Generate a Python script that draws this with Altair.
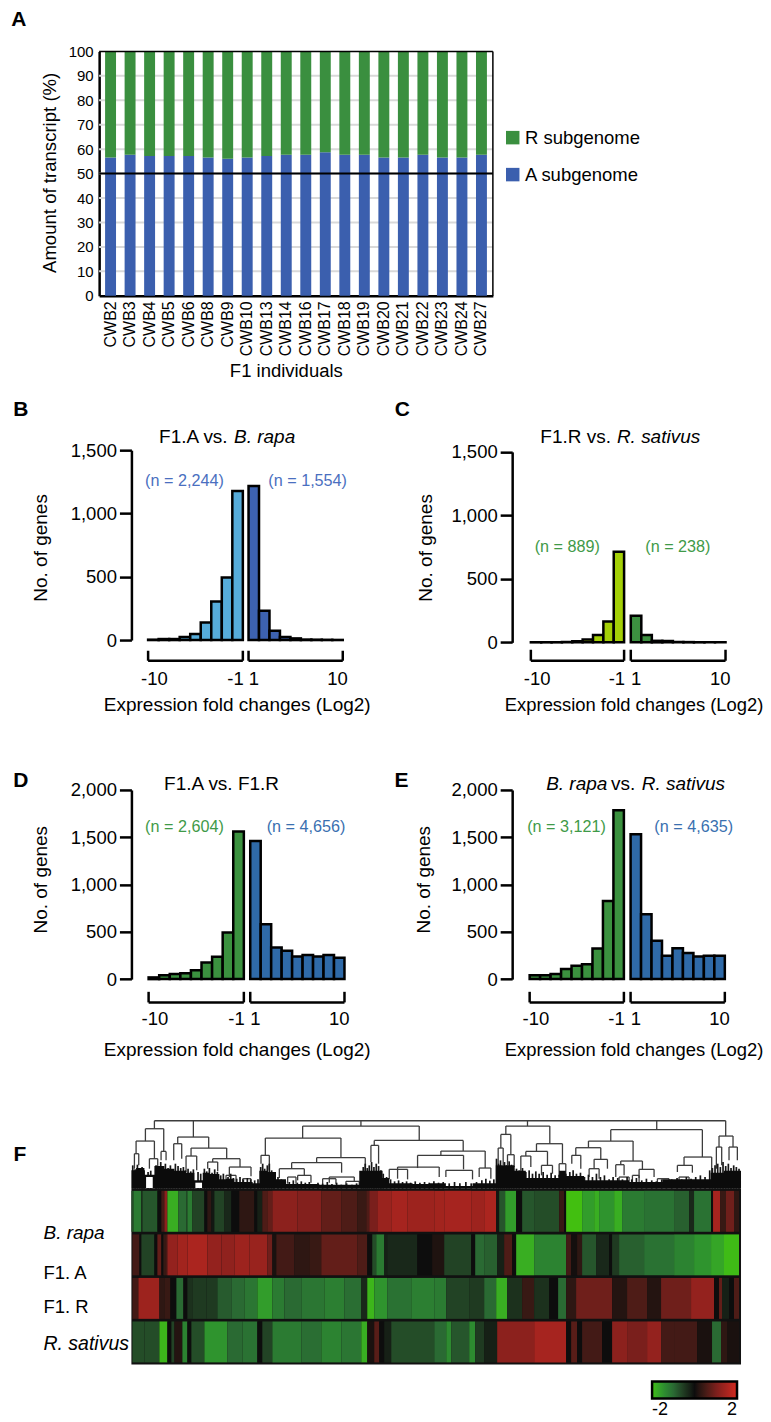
import altair as alt
import pandas as pd

FONT = "Liberation Sans"

# ---------- Panel A ----------
INDIVIDUALS = ["CWB2","CWB3","CWB4","CWB5","CWB6","CWB8","CWB9","CWB10","CWB13","CWB14",
               "CWB16","CWB17","CWB18","CWB19","CWB20","CWB21","CWB22","CWB23","CWB24","CWB27"]
A_SHARE = [56.6,57.7,57.2,57.2,57.2,56.6,56.1,56.6,57.2,57.7,
           57.7,58.7,57.7,57.7,56.6,56.6,57.7,56.6,56.6,57.7]

# ---------- Panels B-E (nine bins either side) ----------
B_LEFT = [3,8,8,24,47,139,305,494,1177]
B_RIGHT = [1216,231,74,24,13,4,3,2,1]
C_LEFT = [1,1,1,2,8,22,58,165,713]
C_RIGHT = [210,58,12,10,3,2,1,1,1]
D_LEFT = [18,42,53,63,95,176,236,493,1560]
D_RIGHT = [1461,581,335,299,239,254,239,254,225]
E_LEFT = [42,42,53,106,141,158,324,827,1785]
E_RIGHT = [1532,687,405,246,327,275,239,246,246]
LEFT_EDGES = [-10,-9,-8,-7,-6,-5,-4,-3,-2,-1]
RIGHT_EDGES = [1,2,3,4,5,6,7,8,9,10]
TICK_TEXT = ["-10","-1","1","10"]
TICK_POS = [-9.4,-1.7,1.5,9.5]

# ---------- Panel F heat map: segment ends along the cluster order, and values ----------
ROWS = ["B. rapa","F1. A","F1. R","R. sativus"]
R1_START, R2_START, R3_START, R4_START = 22, 25, 25, 25
R1_ENDS = [28,52,55,95,100,110,120,130,162,185,190,205,240,248,262,270,300,320,345,390,400,415,430,445,520,590,650,700,725,735,760,800,850,930,960,1040,1080,1115,1125,1142,1175,1195,1230,1305,1320,1325,1375,1410,1425,1470,1495,1560,1650,1695,1710,1760,1768,1788,1805,1830,1845]
R1_VALS = [-.7,-1.2,-.3,-.8,-1.2,0,.5,1.2,-1.8,-1,-.8,-1.2,-.6,0,.3,-.1,-.6,-.3,0,.3,0,-.2,.6,.8,1.2,1.1,.8,.6,.4,.6,1,1.35,1.5,1.4,1.45,1.5,1.4,1.55,-.1,-.8,-1.6,0,-.8,-.7,.4,0,-2,-1.6,-1.8,-1.5,-1.8,-1.2,-1.1,-.9,-.3,-1.1,0,1.5,.4,.9,.3]
R2_ENDS = [45,52,90,98,110,118,125,130,160,190,250,290,330,375,430,445,455,510,555,590,700,730,745,755,780,790,880,925,960,1040,1052,1080,1118,1140,1165,1177,1230,1325,1342,1360,1375,1415,1455,1463,1485,1560,1650,1710,1760,1800,1845]
R2_VALS = [.5,0,-.6,0,.8,0,.4,.8,1.3,1.45,1.55,1.3,1.25,1.4,1.35,.9,.1,.5,.3,.4,.8,.6,0,-.7,-1.2,-.2,-.3,0,.15,-.6,0,-1,-.9,-.2,.6,0,-1.8,-1.3,.5,.05,.3,-.8,-.3,0,-.5,-.9,-1.1,-1.3,-1.5,-1.7,-1.95]
R3_ENDS = [42,105,120,138,155,178,190,205,245,280,320,360,400,445,480,530,600,660,710,730,750,790,860,930,965,1035,1080,1115,1150,1195,1230,1275,1302,1327,1355,1465,1508,1570,1610,1700,1770,1785,1795,1815,1830,1845]
R3_VALS = [.5,1.4,.3,.4,0,-1,0,-.4,-.5,-.5,-.85,-1,-1.15,-1.6,-1.2,-1,-1.15,-1.25,-1.05,-.3,-1.9,-1.5,-1.1,-1.25,-1.2,-.6,-.5,-1,-1.8,-.4,.4,-.4,0,-1,.3,.9,.2,.6,.2,.9,1.3,0,.8,-.2,0,.6]
R4_ENDS = [60,105,130,140,150,175,190,200,240,310,355,400,415,445,530,590,650,710,730,750,765,780,800,930,965,980,1035,1052,1080,1118,1230,1325,1340,1360,1375,1435,1463,1510,1570,1610,1650,1720,1765,1790,1810,1845]
R4_VALS = [-.7,-.7,-1.9,0,-.6,.2,-1.3,0,-.7,-1.5,-1,-1.1,0,-.6,-1.2,-1.05,-1.3,-1.15,-1.8,.1,.7,0,-.2,-.7,-1,-1.4,-.8,-1.4,-.5,-.2,1.2,1.5,0,.7,0,.5,0,1.2,1,1.3,.5,.5,.1,-1,.3,.1]

# ---------- Panel F dendrogram ----------
ROOT_BAR = (105,1820,36)
ROOT_DROPS = [(105,60),(222,85),(725,52),(1225,52),(1613,63),(1820,82)]
MERGES = [
 (78,133,60,97,128),(50,105,97,135,150),(45,58,135,180,170),(90,115,150,180,190),(125,140,128,155,155),
 (163,187,105,155,150),(175,268,85,105,118),(215,322,118,142,150),(200,232,142,190,185),(280,362,150,160,175),
 (265,295,160,180,188),(330,395,175,205,203),(320,350,200,225,225),(370,395,210,228,228),
 (438,665,88,140,147),(425,450,140,165,183),(592,738,147,162,205),(517,667,162,180,192),(480,555,180,208,200),
 (630,705,205,222,218),(505,530,205,225,225),(535,575,200,215,222),(610,650,210,228,225),(680,720,218,232,232),
 (550,900,52,88,95),(765,1032,95,110,127),(755,778,110,160,165),(965,1098,127,140,178),(895,1033,140,178,182),
 (835,960,175,210,205),(810,865,182,212,212),(980,1060,185,205,212),(1080,1115,178,205,210),
 (1160,1292,52,77,105),(1145,1175,77,118,138),(1137,1152,118,170,170),(1165,1185,138,170,175),
 (1252,1330,105,128,165),(1220,1285,128,142,170),(1205,1235,142,198,175),(1267,1300,170,200,195),(1320,1340,165,205,205),
 (1475,1750,63,97,145),(1408,1542,97,117,157),(1370,1445,117,140,152),(1358,1385,140,165,180),(1425,1465,152,180,180),
 (1505,1570,157,168,182),(1490,1515,168,205,200),(1560,1605,182,208,205),(1695,1778,145,170,195),(1675,1720,170,190,192),
 (1800,1842,82,115,115),(1792,1808,115,180,170),(1830,1855,115,155,155),(1410,1440,180,205,210),(1500,1530,205,225,225),
 (1540,1560,200,225,225),(1615,1650,210,225,225),(1680,1710,205,225,222),
]
MASS_X = [36,50,75,105,135,165,200,225,250,270,300,320,345,400,420,445,470,500,600,720,745,790,810,880,930,980,1060,1125,1130,1185,1220,1320,1340,1395,1530,1630,1775,1815,1866]
MASS_Y = [185,178,198,172,180,186,192,215,192,196,212,210,220,224,186,190,212,226,228,186,186,208,224,226,224,232,224,224,170,186,208,186,202,215,220,212,192,186,186]
HOLES_X = [80,228]
HOLES_X2 = [100,248]
HOLES_Y = [205,222]
SPIKES = [(40,170),(47,182),(54,168),(61,178),(68,175),(74,185),(86,190),(94,186),(110,170),(117,178),(124,160),(131,172),(138,165),(146,178),(153,170),(160,182),(168,165),(176,172),(184,178),(192,175),(198,185),(206,180),(214,188),(222,182),(236,190),(244,195),(255,180),(262,188),(270,178),(278,192),(286,182),(294,190),(304,200),(312,195),(326,205),(334,195),(342,208),(352,210),(362,205),(372,212),(384,208),(394,212),(406,215),(416,212),(424,175),(430,165),(436,180),(444,170),(450,165),(457,185),(464,190),(476,205),(486,212),(498,218),(510,220),(522,215),(534,222),(546,218),(558,222),(570,220),(582,226),(596,222),(610,225),(624,220),(638,226),(652,222),(666,228),(682,224),(698,228),(712,224),(726,190),(732,175),(738,165),(744,178),(750,170),(757,160),(764,175),(771,165),(778,172),(785,185),(792,195),(802,205),(814,212),(826,218),(838,215),(850,220),(862,218),(874,222),(888,218),(902,222),(916,220),(930,222),(944,218),(958,222),(972,220),(990,224),(1006,220),(1022,224),(1040,220),(1056,224),(1072,220),(1088,215),(1100,210),(1112,216),(1124,212),(1132,150),(1138,165),(1144,155),(1150,172),(1156,160),(1163,170),(1170,158),(1177,168),(1184,172),(1192,180),(1200,185),(1210,178),(1220,190),(1230,185),(1240,195),(1250,188),(1260,195),(1272,190),(1284,198),(1296,192),(1308,200),(1320,198),(1332,190),(1340,195),(1352,190),(1362,185),(1372,195),(1384,192),(1396,205),(1408,198),(1420,205),(1432,195),(1444,205),(1456,200),(1470,212),(1482,205),(1496,208),(1510,212),(1524,205),(1538,212),(1552,208),(1568,215),(1582,210),(1598,215),(1612,218),(1628,212),(1642,218),(1658,212),(1674,208),(1688,212),(1702,205),(1716,210),(1730,205),(1744,200),(1758,205),(1772,185),(1780,178),(1788,170),(1796,165),(1804,175),(1812,160),(1820,172),(1828,165),(1836,178),(1844,170),(1852,175),(1860,180)]

SRC = alt.Chart
COL_GREEN, COL_BLUE = "#3a8f3f", "#3b5fae"
NG, NB = "#3f9a48", "#3a70b0"
COL0 = 380.2      # distance from the B/D axis to the C/E axis


def txt(s, x, y, size=19, color="black", align="left", style="normal", weight="normal"):
    return SRC(pd.DataFrame({"t": [s]})).mark_text(
        align=align, baseline="middle", fontSize=size, color=color, fontStyle=style, fontWeight=weight
    ).encode(x=alt.value(x), y=alt.value(y), text="t:N")


def blank(w, h):
    return SRC(pd.DataFrame({"a": [0]})).mark_point(opacity=0).encode(
        x=alt.value(0), y=alt.value(0)
    ).properties(width=w, height=h)


# ---------- A ----------
H_A = 244.5
AL, AR = -32.3, 361.7
rows_a = []
for name, a in zip(INDIVIDUALS, A_SHARE):
    rows_a.append({"ind": name, "sub": "A subgenome", "lo": 0, "hi": a})
    rows_a.append({"ind": name, "sub": "R subgenome", "lo": a, "hi": 100})
y_a = alt.Y("lo:Q", scale=alt.Scale(domain=[0, 100], nice=False),
            axis=alt.Axis(title="Amount of transcript (%)", values=list(range(0, 101, 10)), ticks=False,
                          labelFontSize=15, labelPadding=6, labelColor="black", titleColor="black", labelOverlap=False,
                          domainColor="black", domainWidth=2.5, offset=-AL, grid=False,
                          titleFontSize=18.6, titleFontWeight="normal", titleX=-50, titleY=121,
                          titleBaseline="middle", titleAlign="center"))
grid_a = SRC(pd.DataFrame({"lo": list(range(10, 100, 10))})).mark_rule(color="#d9d9d9", strokeWidth=2).encode(
    y=y_a, x=alt.value(AL), x2=alt.value(AR))
bars_a = SRC(pd.DataFrame(rows_a)).mark_bar().encode(
    x=alt.X("ind:N", sort=INDIVIDUALS,
            scale=alt.Scale(range=[AL, AR], paddingInner=0.44, paddingOuter=0.305),
            axis=alt.Axis(title="F1 individuals", labelAngle=-90, labelFontSize=16, ticks=False, labelPadding=5,
                          domainColor="black", domainWidth=2.5, labelColor="black", titleColor="black",
                          titleFontSize=18.5, titleFontWeight="normal", titleX=154.5, titleY=74.7,
                          titleBaseline="middle", titleAlign="center", labelOverlap=False)),
    y=y_a, y2="hi:Q",
    color=alt.Color("sub:N", scale=alt.Scale(domain=["R subgenome", "A subgenome"], range=[COL_GREEN, COL_BLUE]),
                    legend=alt.Legend(title=None, orient="none", legendX=372.3, legendY=77, symbolType="square",
                                      symbolSize=182, symbolStrokeWidth=0, labelFontSize=18.5, labelColor="black",
                                      rowPadding=18, labelOffset=3, padding=0, symbolOpacity=1)),
)
line50 = SRC(pd.DataFrame({"lo": [50]})).mark_rule(color="black", strokeWidth=2).encode(
    y=y_a, x=alt.value(AL), x2=alt.value(AR))
top_a = SRC(pd.DataFrame({"lo": [100]})).mark_rule(color="black", strokeWidth=1.5).encode(
    y=y_a, x=alt.value(AL), x2=alt.value(AR))
right_a = SRC(pd.DataFrame({"lo": [0], "hi": [100]})).mark_rule(color="black", strokeWidth=1.5).encode(
    y=y_a, y2="hi:Q", x=alt.value(AR))
panel_a = alt.layer(grid_a, bars_a, line50, top_a, right_a,
                    txt("A", -120.3, -31.5, size=21, weight="bold")).properties(width=COL0 - 20, height=H_A)


# ---------- B-E ----------
def panel(left, right, c_left, c_right, ymax, yvals, rng, yrng, titles, n_left, n_right, letter,
          bracket_y, tick_y, xtitle_xy, ytitle_xy, height, xtitle_size=19):
    xscale = alt.Scale(domain=[-10, -1, 1, 10], range=rng)
    xaxis = alt.Axis(title="Expression fold changes (Log2)", labels=False, ticks=False, domain=False, grid=False,
                     titleFontSize=xtitle_size, titleFontWeight="normal", titleColor="black",
                     titleX=xtitle_xy[0], titleY=xtitle_xy[1] - height, titleBaseline="middle", titleAlign="center")
    yaxis = alt.Axis(title="No. of genes", values=yvals, format=",.0f", tickSize=12, tickWidth=2.5, tickColor="black",
                     domainColor="black", domainWidth=2.5, labelFontSize=18.5, labelPadding=3, labelColor="black",
                     titleColor="black", titleFontSize=19, titleFontWeight="normal", grid=False, labelOverlap=False,
                     titleX=ytitle_xy[0], titleY=ytitle_xy[1], titleBaseline="middle", titleAlign="center")
    xenc = alt.X("s:Q", scale=xscale, axis=xaxis)
    layers = []
    for vals, edges, col in ((left, LEFT_EDGES, c_left), (right, RIGHT_EDGES, c_right)):
        d = pd.DataFrame({"s": edges[:-1], "e": edges[1:], "v": vals, "z": [0] * len(vals)})
        layers.append(SRC(d).mark_rect(fill=col, stroke="black", strokeWidth=2.5).encode(
            x=xenc, x2="e:Q",
            y=alt.Y("v:Q", scale=alt.Scale(domain=[0, ymax], range=yrng, nice=False), axis=yaxis),
            y2="z:Q"))
    br = pd.DataFrame({"s": [-10, 1], "e": [-1, 10]})
    layers.append(SRC(br).mark_rule(color="black", strokeWidth=2.5).encode(
        x=xenc, x2="e:Q", y=alt.value(bracket_y[1])))
    ends = pd.DataFrame({"s": [-10, -1, 1, 10]})
    layers.append(SRC(ends).mark_rule(color="black", strokeWidth=2.5).encode(
        x=xenc, y=alt.value(bracket_y[0]), y2=alt.value(bracket_y[1])))
    ticks = pd.DataFrame({"s": TICK_POS, "t": TICK_TEXT})
    layers.append(SRC(ticks).mark_text(fontSize=18.5, color="black", baseline="middle").encode(
        x=xenc, y=alt.value(tick_y), text="t:N"))
    for t in titles + n_left + n_right + letter:
        layers.append(t)
    return alt.layer(*layers).properties(width=215, height=height)


panel_b = panel(B_LEFT, B_RIGHT, "#56acda", "#3d62b0", 1500, [0, 500, 1000, 1500],
                [16.7, 111.5, 117.2, 211.5], [190, 0],
                [txt("F1.A vs.", 27.7, -13), txt("B. rapa", 102.7, -13, style="italic")],
                [txt("(n = 2,244)", 13.7, 31.3, size=16.2, color="#4a6fc0")],
                [txt("(n = 1,554)", 137, 31.3, size=16.2, color="#4a6fc0")],
                [txt("B", -118.3, -40, size=21, weight="bold")],
                (200.7, 210.7), 229, (105.4, 254), (-90.6, 97.3), 190)
panel_c = panel(C_LEFT, C_RIGHT, "#a4d007", "#3c9040", 1500, [0, 500, 1000, 1500],
                [18.7, 112, 118.7, 213.5], [192.3, 1.7],
                [txt("F1.R vs.", 28.2, -13), txt("R. sativus", 104.8, -13, style="italic")],
                [txt("(n = 889)", 22.5, 96.7, size=16.2, color=NG)],
                [txt("(n = 238)", 133.2, 96.7, size=16.2, color=NG)],
                [txt("C", -117.5, -40, size=21, weight="bold")],
                (199.7, 210.7), 229, (121.5, 254), (-86.8, 97.3), 190, xtitle_size=18.4)
panel_d = panel(D_LEFT, D_RIGHT, "#3b913f", "#2f6aa8", 2000, [0, 500, 1000, 1500, 2000],
                [17.2, 112.5, 118.9, 213.2], [189.3, 0],
                [txt("F1.A vs. F1.R", 32.7, -5.7)],
                [txt("(n = 2,604)", 13.7, 36.6, size=16.2, color=NG)],
                [txt("(n = 4,656)", 135.4, 36.6, size=16.2, color=NB)],
                [txt("D", -118.3, -8.7, size=21, weight="bold")],
                (202, 212.6), 229.3, (105.4, 260), (-90.6, 89.3), 189.3)
panel_e = panel(E_LEFT, E_RIGHT, "#3b913f", "#2f6aa8", 2000, [0, 500, 1000, 1500, 2000],
                [17.5, 111.8, 118.5, 212.8], [189.3, 0],
                [txt("B. rapa", 34, -5.7, style="italic"), txt("vs.", 99, -5.7), txt("R. sativus", 129.6, -5.7, style="italic")],
                [txt("(n = 3,121)", 15, 36.6, size=16.2, color=NG)],
                [txt("(n = 4,635)", 142.3, 36.6, size=16.2, color=NB)],
                [txt("E", -117.7, -8.7, size=21, weight="bold")],
                (202, 212.6), 229.3, (121.5, 260), (-88.7, 89.3), 189.3, xtitle_size=18.4)


# ---------- F ----------
def z2pos(z):
    return z / 3 - 7


def z2x(z):
    return z / 3 - 12


def z2h(y):
    return (240 - y) / 3


segs = [dict(x=z2x(ROOT_BAR[0]), x2=z2x(ROOT_BAR[1]), y=z2h(ROOT_BAR[2]), y2=z2h(ROOT_BAR[2]))]
for xd, low in ROOT_DROPS:
    segs.append(dict(x=z2x(xd), x2=z2x(xd), y=z2h(ROOT_BAR[2]), y2=z2h(low)))
for xl, xr, top, yl, yr in MERGES:
    segs.append(dict(x=z2x(xl), x2=z2x(xr), y=z2h(top), y2=z2h(top)))
    segs.append(dict(x=z2x(xl), x2=z2x(xl), y=z2h(top), y2=z2h(yl)))
    segs.append(dict(x=z2x(xr), x2=z2x(xr), y=z2h(top), y2=z2h(yr)))
spikes = [dict(x=z2x(z), y=z2h(top), y2=0) for z, top in SPIKES]

XS = alt.Scale(domain=[0, 610], range=[0, 610], nice=False, zero=False)
DS = alt.Scale(domain=[0, 67], nice=False)
mass = pd.DataFrame({"x": [z2x(z) for z in MASS_X], "h": [z2h(y) for y in MASS_Y]})
holes = pd.DataFrame({"x": [z2x(z) for z in HOLES_X], "x2": [z2x(z) for z in HOLES_X2],
                      "y": [z2h(y) for y in HOLES_Y], "z": [0.7, 0.7]})
dend = alt.layer(
    SRC(pd.DataFrame(segs)).mark_rule(color="#3c3c3c", strokeWidth=1.3).encode(
        x=alt.X("x:Q", scale=XS, axis=None), x2="x2:Q", y=alt.Y("y:Q", scale=DS, axis=None), y2="y2:Q"),
    SRC(pd.DataFrame(spikes)).mark_rule(color="#161616", strokeWidth=1.7).encode(
        x=alt.X("x:Q", scale=XS, axis=None), y=alt.Y("y:Q", scale=DS, axis=None), y2="y2:Q"),
    SRC(mass).mark_area(color="#0b0b0b", interpolate="step-after", opacity=1).encode(
        x=alt.X("x:Q", scale=XS, axis=None), y=alt.Y("h:Q", scale=DS, axis=None)),
    SRC(holes).mark_rect(fill="white").encode(
        x=alt.X("x:Q", scale=XS, axis=None), x2="x2:Q", y=alt.Y("y:Q", scale=DS, axis=None), y2="z:Q"),
    txt("F", -118, 33, size=21, weight="bold"),
).properties(width=COL0 - 20, height=67)

cells = []
for row, start, ends_, vals in ((ROWS[0], R1_START, R1_ENDS, R1_VALS), (ROWS[1], R2_START, R2_ENDS, R2_VALS),
                                (ROWS[2], R3_START, R3_ENDS, R3_VALS), (ROWS[3], R4_START, R4_ENDS, R4_VALS)):
    prev = start
    for e, v in zip(ends_, vals):
        cells.append({"row": row, "p0": round(z2pos(prev)), "p1": round(z2pos(e)), "v": v})
        prev = e

back = SRC(pd.DataFrame({"a": [0]})).mark_rect(fill="#111111").encode(
    x=alt.value(0), x2=alt.value(610), y=alt.value(0), y2=alt.value(176))
heat = alt.layer(
    back,
    SRC(pd.DataFrame(cells)).mark_rect().encode(
        x=alt.X("p0:Q", scale=XS, axis=None), x2="p1:Q",
        y=alt.Y("row:N", sort=ROWS, axis=None, scale=alt.Scale(paddingInner=0.06, paddingOuter=0.05)),
        color=alt.Color("v:Q", scale=alt.Scale(domain=[-2, -1, 0, 1, 2],
                                               range=["#42bf10", "#2a6a33", "#0d0d0d", "#7a1f1c", "#d42a1e"]),
                        legend=alt.Legend(title=None, orient="none", direction="horizontal", legendX=521, legendY=193,
                                          values=[-2, 2], gradientLength=85, gradientThickness=17,
                                          gradientStrokeColor="black", gradientStrokeWidth=2.5,
                                          labelExpr="datum.value < 0 ? '-2' : '2'",
                                          labelFontSize=18, labelColor="black", padding=0))),
    txt("B. rapa", -88, 44, size=19, style="italic"),
    txt("F1. A", -88, 84, size=18.5),
    txt("F1. R", -88, 118, size=18.5),
    txt("R. sativus", -88, 155, size=19.5, style="italic"),
).properties(width=COL0 - 20, height=176)

# ---------- layout grid: two columns with explicit gap rows ----------
grid = [
    panel_a, blank(215, 1),
    blank(COL0, 154), blank(215, 1),
    panel_b, panel_c,
    blank(COL0, 149.7), blank(215, 1),
    panel_d, panel_e,
    blank(COL0, 142), blank(215, 1),
    dend, blank(215, 1),
    heat, blank(215, 1),
]

chart = alt.concat(*grid, columns=2, spacing=0, bounds="flush").properties(
    padding={"left": 2.5, "top": 0, "right": 0, "bottom": 0}
).configure(font=FONT).configure_view(stroke=None)

chart.save("out.html", embed_options={"renderer": "svg", "actions": False})
